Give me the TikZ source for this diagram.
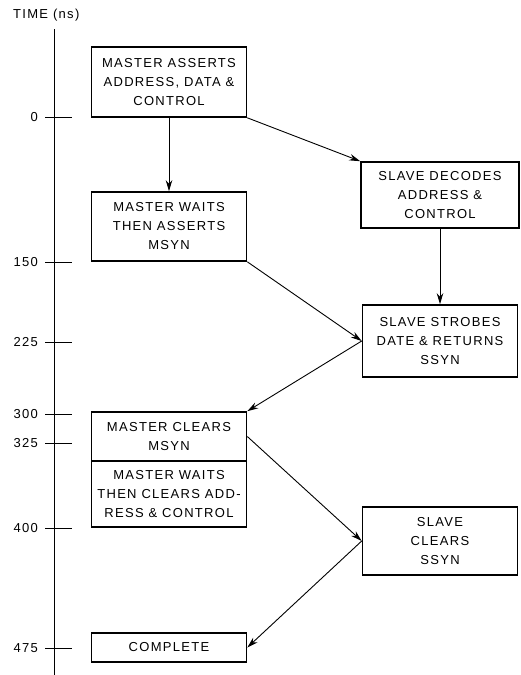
\documentclass[tikz,border=0pt]{standalone}
\usepackage{fontspec}
\setmainfont[LetterSpace=10]{Liberation Sans}
\usetikzlibrary{arrows.meta}
\begin{document}
\begin{tikzpicture}[x=1pt, y=-1pt, >={Stealth[length=11pt,width=6.5pt]},
    box/.style={draw, line width=1.6pt, minimum width=155pt, inner sep=0pt,
        align=center, font=\fontsize{13}{19}\selectfont},
    flow/.style={->, line width=0.9pt},
    lbl/.style={font=\fontsize{13}{15}\selectfont, inner sep=0pt}]
    \useasboundingbox (0,0) rectangle (520,675);

    % time axis
    \node[lbl, anchor=west] (title) at (13,15) {TIME (ns)};
    \draw[line width=1pt] (54,29) -- (54,675);
    \foreach \t/\y in {0/117, 150/262, 225/342, 300/414, 325/443, 400/528, 475/648} {
        \draw[line width=1pt] (45,\y) -- (72,\y);
        \node[lbl, anchor=east] (t\t) at (38,\y) {\t};
    }

    % master side
    \node[box, minimum height=70pt] (masterassert) at (169,82)
        {MASTER ASSERTS\\ADDRESS, DATA \&\\CONTROL};
    \node[box, minimum height=69pt] (masterwait) at (169,226.5)
        {MASTER WAITS\\THEN ASSERTS\\MSYN};
    \node[box, minimum height=49pt] (masterclear) at (169,436.5)
        {MASTER CLEARS\\MSYN};
    \node[box, minimum height=66pt, anchor=north, yshift=1.6pt] (masterwaitclear) at (masterclear.south)
        {MASTER WAITS\\THEN CLEARS ADD-\\RESS \& CONTROL};
    \node[box, minimum height=29pt] (complete) at (169,647.5) {COMPLETE};

    % slave side
    \node[box, minimum width=158pt, minimum height=66pt] (slavedecode) at (440,195)
        {SLAVE DECODES\\ADDRESS \&\\CONTROL};
    \node[box, minimum height=72pt] (slavestrobe) at (440,341)
        {SLAVE STROBES\\DATE \& RETURNS\\SSYN};
    \node[box, minimum height=68pt] (slaveclear) at (440,541)
        {SLAVE\\CLEARS\\SSYN};

    % handshake
    \draw[flow] (masterassert) -- (masterwait);
    \draw[flow] (masterassert.south east) -- (slavedecode.north west);
    \draw[flow] (slavedecode) -- (slavestrobe);
    \draw[flow] (masterwait.south east) -- (slavestrobe.west);
    \draw[flow] (slavestrobe.west) -- (masterclear.north east);
    \draw[flow] (masterclear.east) -- (slaveclear.west);
    \draw[flow] (slaveclear.west) -- (complete.east);
\end{tikzpicture}
\end{document}
